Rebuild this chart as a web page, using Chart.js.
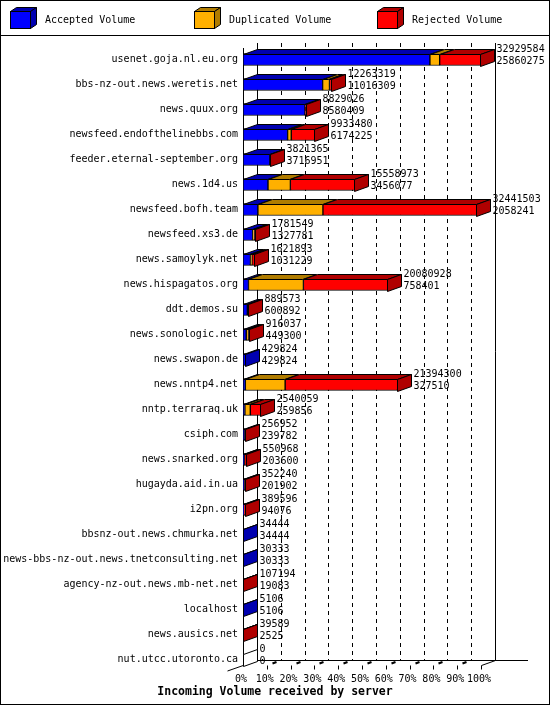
<!DOCTYPE html>
<html>
<head>
<meta charset="utf-8">
<script src="https://cdn.jsdelivr.net/npm/chart.js@4/dist/chart.umd.min.js"></script>
<style>
    html, body { margin: 0; padding: 0; background: #fff; }
    canvas { display: block; }
</style>
</head>
<body>
<canvas id="volumeChart" width="550" height="705"></canvas>
<script>
const servers = [
    'usenet.goja.nl.eu.org', 'bbs-nz-out.news.weretis.net', 'news.quux.org',
    'newsfeed.endofthelinebbs.com', 'feeder.eternal-september.org', 'news.1d4.us',
    'newsfeed.bofh.team', 'newsfeed.xs3.de', 'news.samoylyk.net', 'news.hispagatos.org',
    'ddt.demos.su', 'news.sonologic.net', 'news.swapon.de', 'news.nntp4.net',
    'nntp.terraraq.uk', 'csiph.com', 'news.snarked.org', 'hugayda.aid.in.ua', 'i2pn.org',
    'bbsnz-out.news.chmurka.net', 'news-bbs-nz-out.news.tnetconsulting.net',
    'agency-nz-out.news.mb-net.net', 'localhost', 'news.ausics.net', 'nut.utcc.utoronto.ca'
];
// first number printed next to each bar
const totalVolume = [
    32929584, 12263319, 8829026, 9933480, 3821365, 15558973, 32441503, 1781549, 1621893,
    20080928, 889573, 916037, 429824, 21394300, 2540059, 256952, 550968, 352240, 389596,
    34444, 30333, 107194, 5106, 39589, 0
];
// second number printed next to each bar
const acceptedVolume = [
    25860275, 11016309, 8580409, 6174225, 3716951, 3456077, 2058241, 1327781, 1031229,
    758401, 600892, 449300, 429824, 327510, 259856, 239782, 203600, 201902, 94076,
    34444, 30333, 19083, 5106, 2525, 0
];
const duplicatedVolume = [
    1350000, 950000, 0, 500000, 0, 3100000, 9000000, 230000, 200000,
    7600000, 0, 300000, 0, 5500000, 750000, 0, 0, 0, 0,
    0, 0, 0, 0, 0, 0
];
const rejectedVolume = [
    5719309, 297010, 248617, 3259255, 104414, 9002896, 21383262, 223768, 390664,
    11722527, 288681, 166737, 0, 15566790, 1530203, 17170, 347368, 150338, 295520,
    0, 0, 88111, 0, 37064, 0
];
const seriesNames = ['Accepted Volume', 'Duplicated Volume', 'Rejected Volume'];
const chartTitle = 'Incoming Volume received by server';

const frontColors = ['#0000ff', '#ffb000', '#ff0000'];
const darkColors = ['#0000b0', '#b07c00', '#b00000'];
const depthX = 14;
const depthY = 5;
const barSize = 12;

const maxTotal = Math.max(...totalVolume);
const toPercent = v => v / maxTotal * 100;
const seriesValues = [acceptedVolume, duplicatedVolume, rejectedVolume];

Chart.defaults.font.family = '"DejaVu Sans Mono", monospace';
Chart.defaults.font.size = 10;
Chart.defaults.color = '#000';

function poly(ctx, pts, fill) {
    ctx.beginPath();
    ctx.moveTo(pts[0][0], pts[0][1]);
    for (let i = 1; i < pts.length; i++) ctx.lineTo(pts[i][0], pts[i][1]);
    ctx.closePath();
    ctx.fillStyle = fill;
    ctx.fill();
    ctx.stroke();
}

function line(ctx, x1, y1, x2, y2) {
    ctx.beginPath();
    ctx.moveTo(x1, y1);
    ctx.lineTo(x2, y2);
    ctx.stroke();
}

const threeD = {
    id: 'threeD',
    beforeDraw(chart) {
        const ctx = chart.ctx;
        ctx.save();
        ctx.fillStyle = '#fff';
        ctx.fillRect(0, 0, chart.width, chart.height);
        ctx.restore();
    },
    beforeDatasetsDraw(chart) {
        const ctx = chart.ctx;
        const xs = chart.scales.x;
        const ys = chart.scales.y;
        const area = chart.chartArea;
        const floorFront = ys.getPixelForValue(servers.length - 1) + barSize / 2;
        const floorBack = floorFront - depthY;
        const top = area.top - 4;

        ctx.save();
        ctx.strokeStyle = '#000';
        ctx.lineWidth = 1;
        for (let k = 0; k <= 10; k++) {
            const fx = Math.round(xs.getPixelForValue(k * 10)) + 0.5;
            const bx = fx + depthX;
            ctx.setLineDash(k === 0 || k === 10 ? [] : [4, 4]);
            line(ctx, bx, top, bx, floorBack);
            ctx.setLineDash([]);
            if (k > 0) {
                line(ctx, fx, floorFront, fx, floorFront + 4);
            }
            if (k > 0 && k < 10) {
                ctx.lineWidth = 2;
                line(ctx, fx + 5, floorFront - 2, fx + 9, floorFront - 3.5);
                ctx.lineWidth = 1;
            }
        }
        const x0 = Math.round(xs.getPixelForValue(0)) + 0.5;
        const x100 = Math.round(xs.getPixelForValue(100)) + 0.5;
        // left front edge and floor
        line(ctx, x0, area.top + 1, x0, floorFront);
        line(ctx, x0 + depthX, floorBack, chart.width - 22, floorBack);
        line(ctx, x0 - 16, floorFront + 5.5, x0 + depthX, floorBack);
        line(ctx, x100, floorFront, x100 + depthX, floorBack);
        ctx.restore();
    },
    afterDatasetsDraw(chart) {
        const ctx = chart.ctx;
        const xs = chart.scales.x;
        const metas = seriesValues.map((_, k) => chart.getDatasetMeta(k));
        ctx.save();
        ctx.strokeStyle = '#000';
        ctx.lineWidth = 1;
        servers.forEach((name, i) => {
            let last = -1;
            let end = xs.getPixelForValue(0);
            let cy = metas[0].data[i].y;
            const topY = Math.round(cy - barSize / 2) + 0.5;
            const botY = topY + barSize;
            metas.forEach((meta, k) => {
                const bar = meta.data[i];
                if (seriesValues[k][i] > 0) {
                    const b = Math.round(bar.base) + 0.5;
                    const e = Math.round(bar.x) - 0.5;
                    poly(ctx, [[b, topY], [Math.max(e, b), topY],
                        [Math.max(e, b) + depthX, topY - depthY], [b + depthX, topY - depthY]], darkColors[k]);
                    last = k;
                    end = Math.max(e, b);
                }
            });
            const sideFill = last >= 0 ? darkColors[last] : '#fff';
            if (last < 0) end = Math.round(end) + 0.5;
            poly(ctx, [[end, topY], [end + depthX, topY - depthY],
                [end + depthX, botY - depthY], [end, botY]], sideFill);

            ctx.fillStyle = '#000';
            ctx.font = '10px "DejaVu Sans Mono", monospace';
            ctx.textAlign = 'left';
            ctx.textBaseline = 'middle';
            const tx = end + depthX + 2;
            ctx.fillText(String(totalVolume[i]), tx, cy - 10);
            ctx.fillText(String(acceptedVolume[i]), tx, cy + 1.5);
        });
        ctx.restore();
    },
    afterDraw(chart) {
        const ctx = chart.ctx;
        ctx.save();
        ctx.strokeStyle = '#000';
        ctx.lineWidth = 1;
        ctx.strokeRect(0.5, 0.5, chart.width - 1, chart.height - 1);
        line(ctx, 0, 35.5, chart.width, 35.5);

        const boxX = [10, 194, 377];
        seriesNames.forEach((name, k) => {
            const x = boxX[k] + 0.5;
            const y = 11.5;
            const w = 20, h = 17, dx = 6, dy = 4;
            poly(ctx, [[x, y], [x + w, y], [x + w + dx, y - dy], [x + dx, y - dy]], darkColors[k]);
            poly(ctx, [[x + w, y], [x + w + dx, y - dy], [x + w + dx, y + h - dy], [x + w, y + h]], darkColors[k]);
            ctx.fillStyle = frontColors[k];
            ctx.fillRect(x, y, w, h);
            ctx.strokeRect(x, y, w, h);
            ctx.fillStyle = '#000';
            ctx.font = '10px "DejaVu Sans Mono", monospace';
            ctx.textAlign = 'left';
            ctx.textBaseline = 'middle';
            ctx.fillText(name, boxX[k] + 35, 20);
        });

        ctx.font = 'bold 11.5px "DejaVu Sans Mono", monospace';
        ctx.textAlign = 'center';
        ctx.textBaseline = 'middle';
        ctx.fillText(chartTitle, chart.width / 2, 692);
        ctx.restore();
    }
};

new Chart(document.getElementById('volumeChart'), {
    type: 'bar',
    data: {
        labels: servers,
        datasets: seriesValues.map((values, k) => ({
            label: seriesNames[k],
            data: values.map(toPercent),
            backgroundColor: frontColors[k],
            borderColor: '#000',
            borderWidth: 1,
            borderSkipped: false,
            barThickness: barSize
        }))
    },
    options: {
        indexAxis: 'y',
        responsive: false,
        animation: false,
        devicePixelRatio: 1,
        layout: { padding: { top: 47, right: 69, left: 0, bottom: 0 } },
        plugins: {
            legend: { display: false },
            tooltip: { enabled: false },
            title: { display: false }
        },
        scales: {
            x: {
                stacked: true,
                min: 0,
                max: 100,
                grid: { display: false, drawTicks: false },
                border: { display: false },
                ticks: {
                    stepSize: 10,
                    autoSkip: false,
                    maxRotation: 0,
                    padding: 1,
                    labelOffset: -2,
                    callback: v => v + '%'
                },
                afterFit: scale => { scale.height = 33; }
            },
            y: {
                stacked: true,
                grid: { display: false, drawTicks: false },
                border: { display: false },
                ticks: { autoSkip: false, padding: 5 },
                afterFit: scale => { scale.width = 243; }
            }
        }
    },
    plugins: [threeD]
});
</script>
</body>
</html>
